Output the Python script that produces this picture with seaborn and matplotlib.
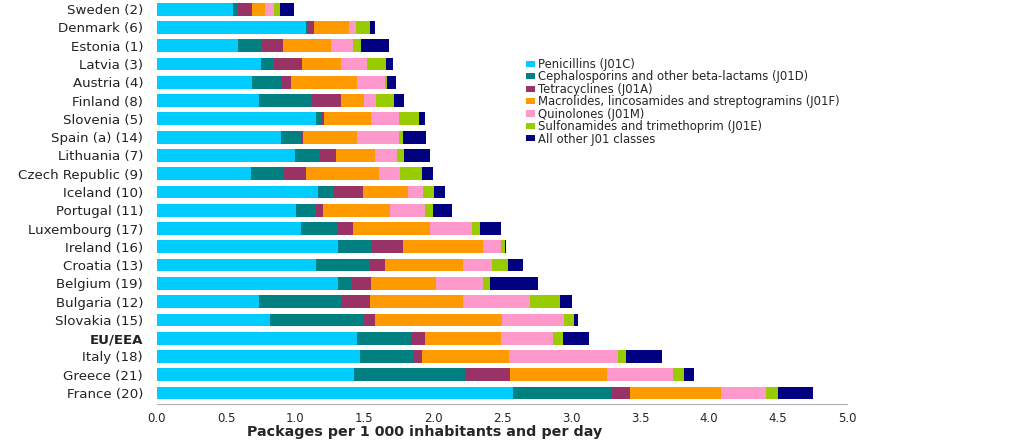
import pandas as pd
import matplotlib.pyplot as plt
import seaborn as sns
from matplotlib.patches import Patch

# Antibiotic consumption by class, packages per 1 000 inhabitants per day
countries = ["Sweden (2)", "Denmark (6)", "Estonia (1)", "Latvia (3)", "Austria (4)",
             "Finland (8)", "Slovenia (5)", "Spain (a) (14)", "Lithuania (7)",
             "Czech Republic (9)", "Iceland (10)", "Portugal (11)", "Luxembourg (17)",
             "Ireland (16)", "Croatia (13)", "Belgium (19)", "Bulgaria (12)",
             "Slovakia (15)", "EU/EEA", "Italy (18)", "Greece (21)", "France (20)"]

penicillins = [0.55, 1.08, 0.59, 0.75, 0.69, 0.74, 1.15, 0.90, 1.00, 0.68, 1.17,
               1.01, 1.04, 1.31, 1.15, 1.31, 0.74, 0.82, 1.45, 1.47, 1.43, 2.58]
cephalosporins = [0.04, 0.01, 0.17, 0.10, 0.21, 0.38, 0.04, 0.14, 0.18, 0.24, 0.11,
                  0.14, 0.27, 0.25, 0.39, 0.10, 0.59, 0.68, 0.39, 0.39, 0.80, 0.72]
tetracyclines = [0.10, 0.05, 0.15, 0.20, 0.07, 0.21, 0.02, 0.02, 0.12, 0.16, 0.21,
                 0.05, 0.11, 0.22, 0.11, 0.14, 0.21, 0.08, 0.10, 0.06, 0.33, 0.13]
macrolides = [0.09, 0.25, 0.35, 0.28, 0.48, 0.17, 0.34, 0.39, 0.28, 0.53, 0.33,
              0.49, 0.56, 0.58, 0.57, 0.47, 0.68, 0.92, 0.55, 0.63, 0.70, 0.66]
quinolones = [0.07, 0.05, 0.16, 0.19, 0.20, 0.09, 0.20, 0.30, 0.16, 0.15, 0.11,
              0.25, 0.30, 0.13, 0.21, 0.34, 0.48, 0.45, 0.38, 0.79, 0.48, 0.32]
sulfonamides = [0.04, 0.10, 0.06, 0.14, 0.02, 0.13, 0.15, 0.03, 0.05, 0.16, 0.08,
                0.06, 0.06, 0.03, 0.11, 0.05, 0.22, 0.07, 0.07, 0.06, 0.08, 0.09]
other = [0.10, 0.04, 0.20, 0.05, 0.06, 0.07, 0.04, 0.17, 0.19, 0.08, 0.08,
         0.14, 0.15, 0.01, 0.11, 0.35, 0.09, 0.03, 0.19, 0.26, 0.07, 0.25]

classes = ["Penicillins (J01C)",
           "Cephalosporins and other beta-lactams (J01D)",
           "Tetracyclines (J01A)",
           "Macrolides, lincosamides and streptogramins (J01F)",
           "Quinolones (J01M)",
           "Sulfonamides and trimethoprim (J01E)",
           "All other J01 classes"]
colors = ["#00CCFF", "#008080", "#993366", "#FF9900", "#FF99CC", "#99CC00", "#000080"]

df = pd.DataFrame({"Country": countries})
for name, vals in zip(classes, [penicillins, cephalosporins, tetracyclines, macrolides,
                                quinolones, sulfonamides, other]):
    df[name] = vals

# cumulative sums so each layer can be drawn on top of the next
cum = df[classes].cumsum(axis=1)

sns.set_style("white")
plt.rcParams['font.family'] = ['DejaVu Sans']

fig = plt.figure(figsize=(10.24, 4.41), dpi=100)
ax = fig.add_axes([157 / 1024, 1 - 404 / 441, 690 / 1024, 404 / 441])

for name, col in reversed(list(zip(classes, colors))):
    sns.barplot(x=cum[name], y=df["Country"], color=col, width=0.7,
                linewidth=0, saturation=1, orient="h", ax=ax)

ax.set_xlim(0, 5.0)
ax.set_ylim(21.6, -0.5)
ax.set_xticks([i * 0.5 for i in range(11)])
ax.set_xticklabels([f"{i * 0.5:.1f}" for i in range(11)], fontsize=8.5)
ax.set_xlabel("")
ax.set_ylabel("")
ax.tick_params(axis="y", length=0, pad=10, labelsize=9.6)
ax.tick_params(axis="x", length=3, color="#999999", direction="out", pad=3)
for lab in ax.get_yticklabels():
    lab.set_color("#222222")
    if lab.get_text() == "EU/EEA":
        lab.set_fontweight("bold")

for s in ["top", "right", "left"]:
    ax.spines[s].set_visible(False)
ax.spines["bottom"].set_color("#b0b0b0")

fig.text(425 / 1024, 1 - 432 / 441, "Packages per 1 000 inhabitants and per day",
         ha="center", va="center", fontsize=10.3, fontweight="bold")

handles = [Patch(facecolor=c, edgecolor="none") for c in colors]
fig.legend(handles, classes, loc="upper left", bbox_to_anchor=(526 / 1024, 1 - 58 / 441),
           frameon=False, fontsize=8.4, handlelength=0.8, handleheight=0.45,
           handletextpad=0.25, labelspacing=-0.05, borderpad=0, borderaxespad=0)

fig.savefig("out.png", dpi=100)
